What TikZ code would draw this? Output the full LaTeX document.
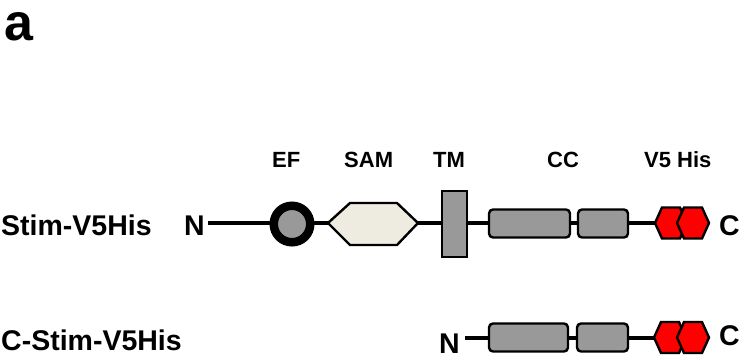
\documentclass[tikz,border=0pt]{standalone}
\usepackage{fontspec}
\setmainfont{Liberation Sans}
\definecolor{domgray}{HTML}{999999}
\definecolor{sambeige}{HTML}{EEECE1}
\begin{document}
\begin{tikzpicture}[x=1pt,y=-1pt,
  backbone/.style={line width=4.2pt},
  lbl/.style={inner sep=0pt,anchor=base west,font=\fontsize{28.5}{30}\selectfont\bfseries},
  hdr/.style={inner sep=0pt,anchor=base west,font=\fontsize{22}{24}\selectfont\bfseries},
  ccbox/.style={draw,line width=2.4pt,fill=domgray,rounded corners=4pt,inner sep=0pt,minimum height=28pt},
  tmbox/.style={draw,line width=2.4pt,fill=domgray,inner sep=0pt,minimum width=25pt,minimum height=66pt},
  efring/.style={draw,circle,line width=8.5pt,fill=domgray,inner sep=0pt,minimum size=36.5pt},
  outl/.style={draw,line width=2.4pt,line join=miter},
  hexred/.style={outl,fill=red}
]
\useasboundingbox (0,0) rectangle (750,360);

% panel letter
\node[inner sep=0pt,anchor=base west,font=\fontsize{52}{54}\selectfont\bfseries] (panel) at (4,40) {a};

% domain headers
\node[hdr] (hEF)  at (272,167) {EF};
\node[hdr] (hSAM) at (344,167) {SAM};
\node[hdr] (hTM)  at (433,167) {TM};
\node[hdr] (hCC)  at (547,167) {CC};
\node[hdr] (hV5)  at (644,167) {V5 His};

% ---------- full-length construct ----------
\node[lbl] (name1) at (1,235) {Stim-V5His};
\node[lbl] (n1) at (184,235) {N};
\node[lbl] (c1) at (719,235) {C};
\coordinate (s1) at (208,223);
\coordinate (e1) at (656,223);
\draw[backbone] (s1) -- (e1);

\node[efring] (ef) at (292,224) {};
\draw[outl,fill=sambeige] (328,223) -- (350,203) -- (397,203) -- (418,223) -- (397,245) -- (350,245) -- cycle;
\node[tmbox] (tm) at (454.5,224) {};
\node[ccbox,minimum width=81pt] (cc1a) at (529.5,223.5) {};
\node[ccbox,minimum width=50pt] (cc1b) at (603,223.5) {};
\draw[hexred] (655,223) -- (662,207.5) -- (680,207.5) -- (687,223) -- (680,238.5) -- (662,238.5) -- cycle;
\draw[hexred] (677,223) -- (684,207.5) -- (702,207.5) -- (709,223) -- (702,238.5) -- (684,238.5) -- cycle;

% ---------- C-terminal construct ----------
\node[lbl] (name2) at (1,350) {C-Stim-V5His};
\node[lbl] (n2) at (439,353) {N};
\node[lbl] (c2) at (719,345) {C};
\coordinate (s2) at (465,338);
\coordinate (e2) at (655,338);
\draw[backbone] (s2) -- (e2);

\node[ccbox,minimum width=79pt] (cc2a) at (528.5,337.5) {};
\node[ccbox,minimum width=51pt] (cc2b) at (602.5,337.5) {};
\draw[hexred] (654,337.5) -- (661,322) -- (679,322) -- (686,337.5) -- (679,353) -- (661,353) -- cycle;
\draw[hexred] (677,337.5) -- (684,322) -- (702,322) -- (709,337.5) -- (702,353) -- (684,353) -- cycle;
\end{tikzpicture}
\end{document}
